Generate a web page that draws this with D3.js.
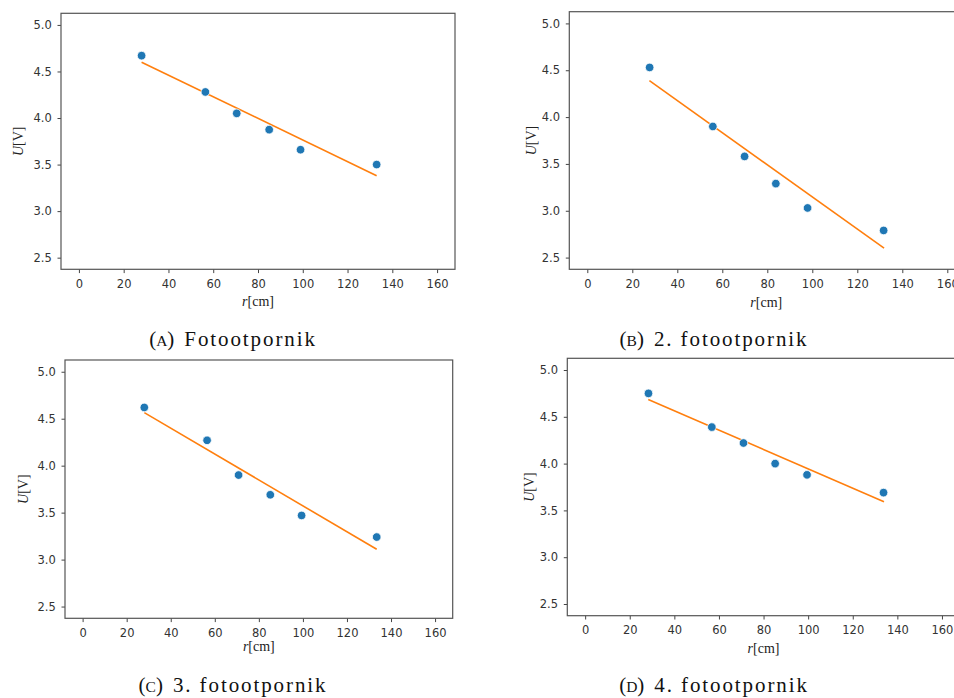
<!DOCTYPE html>
<html>
<head>
<meta charset="utf-8">
<script src="https://cdn.jsdelivr.net/npm/d3@7"></script>
<style>
  html, body { margin: 0; padding: 0; background: #fff; }
  svg { display: block; }
</style>
</head>
<body>
<svg id="chart" width="954" height="698"></svg>
<script>
// ---- data ----
const xTicks = [0, 20, 40, 60, 80, 100, 120, 140, 160];
const yTicks = [2.5, 3.0, 3.5, 4.0, 4.5, 5.0];

const rA = [28, 56.5, 70.5, 85, 99, 133];
const uA = [4.67, 4.28, 4.05, 3.875, 3.66, 3.50];
const rB = [27.7, 55.8, 69.9, 83.8, 97.9, 131.7];
const uB = [4.53, 3.90, 3.58, 3.29, 3.03, 2.79];
const rC = [28, 56.5, 70.8, 85.2, 99.4, 133.5];
const uC = [4.62, 4.27, 3.90, 3.69, 3.47, 3.24];
const rD = [28.4, 56.8, 71, 85.2, 99.5, 133.8];
const uD = [4.75, 4.39, 4.22, 4.00, 3.88, 3.69];

const fitRA = [28, 133];   const fitUA = [4.60, 3.38];
const fitRB = [27.6, 131.9]; const fitUB = [4.39, 2.60];
const fitRC = [28, 133.5]; const fitUC = [4.565, 3.11];
const fitRD = [28.3, 134]; const fitUD = [4.685, 3.593];

const captionPrefix = ["A", "B", "C", "D"];
const captionText = ["Fotootpornik", "2. fotootpornik", "3. fotootpornik", "4. fotootpornik"];

const xDomain = [-8, 168];
const yDomain = [2.375, 5.125];

// ---- layout ----
const panels = [
  { r: rA, u: uA, fr: fitRA, fu: fitUA, left: 61,    right: 455,   top: 13.3, bottom: 269.3, ylx: 18.3,  xly: 301.7, capX: 233, capY: 346 },
  { r: rB, u: uB, fr: fitRB, fu: fitUB, left: 569.3, right: 965.3, top: 11.7, bottom: 269.3, ylx: 531.7, xly: 302.7, capX: 714, capY: 346 },
  { r: rC, u: uC, fr: fitRC, fu: fitUC, left: 65,    right: 452.7, top: 360,  bottom: 618.3, ylx: 23.3,  xly: 646.7, capX: 233, capY: 691.5 },
  { r: rD, u: uD, fr: fitRD, fu: fitUD, left: 567.3, right: 959.8, top: 358.3, bottom: 615.7, ylx: 529.3, xly: 648.3, capX: 714, capY: 691.5 }
];

const svg = d3.select("#chart");
const tickFont = "'DejaVu Sans', sans-serif";
const serif = "'Liberation Serif', 'Times New Roman', serif";

panels.forEach((p, i) => {
  const x = d3.scaleLinear().domain(xDomain).range([p.left, p.right]);
  const y = d3.scaleLinear().domain(yDomain).range([p.bottom, p.top]);
  const g = svg.append("g");

  // x axis
  const gx = g.append("g")
    .attr("transform", `translate(0,${p.bottom})`)
    .call(d3.axisBottom(x).tickValues(xTicks).tickSize(3.8).tickPadding(6.3).tickFormat(d3.format("d")));
  // y axis
  const gy = g.append("g")
    .attr("transform", `translate(${p.left},0)`)
    .call(d3.axisLeft(y).tickValues(yTicks).tickSize(3.5).tickPadding(5.8).tickFormat(d3.format(".1f")));

  [gx, gy].forEach(a => {
    a.select(".domain").remove();
    a.selectAll(".tick line").attr("stroke", "#444").attr("stroke-width", 1);
    a.selectAll(".tick text").attr("fill", "#333").style("font-family", tickFont).style("font-size", "11.5px");
  });

  // frame
  g.append("rect")
    .attr("x", p.left).attr("y", p.top)
    .attr("width", p.right - p.left).attr("height", p.bottom - p.top)
    .attr("fill", "none").attr("stroke", "#555").attr("stroke-width", 1.2);

  // fit line
  const line = d3.line().x(d => x(d[0])).y(d => y(d[1]));
  g.append("path")
    .datum(p.fr.map((v, k) => [v, p.fu[k]]))
    .attr("d", line)
    .attr("fill", "none").attr("stroke", "#ff7f0e").attr("stroke-width", 1.6);

  // points
  g.selectAll("circle.pt").data(p.r.map((v, k) => [v, p.u[k]])).join("circle")
    .attr("class", "pt")
    .attr("cx", d => x(d[0])).attr("cy", d => y(d[1]))
    .attr("r", 4.3)
    .attr("fill", "#1f77b4").attr("stroke", "#fff").attr("stroke-width", 0.8);

  // x label
  const xl = g.append("text")
    .attr("x", (p.left + Math.min(p.right, p.left + 394)) / 2)
    .attr("y", p.xly + 4.5)
    .attr("text-anchor", "middle")
    .style("font-family", serif).style("font-size", "14px").attr("fill", "#222");
  xl.append("tspan").style("font-style", "italic").text("r");
  xl.append("tspan").text("[cm]");

  // y label
  const yc = (p.top + p.bottom) / 2;
  const yl = g.append("text")
    .attr("transform", `translate(${p.ylx + 4.6},${yc}) rotate(-90)`)
    .attr("text-anchor", "middle")
    .style("font-family", serif).style("font-size", "14px").attr("fill", "#222");
  yl.append("tspan").style("font-style", "italic").text("U");
  yl.append("tspan").text("[V]");

  // caption
  const cap = svg.append("text")
    .attr("x", p.capX).attr("y", p.capY)
    .attr("text-anchor", "middle")
    .style("font-family", serif).style("font-size", "21px").attr("fill", "#111");
  cap.append("tspan").text("(");
  cap.append("tspan").style("font-size", "15.5px").text(captionPrefix[i]);
  cap.append("tspan").text(")");
  cap.append("tspan").attr("dx", 10).style("letter-spacing", "1.9px").text(captionText[i]);
});
</script>
</body>
</html>
